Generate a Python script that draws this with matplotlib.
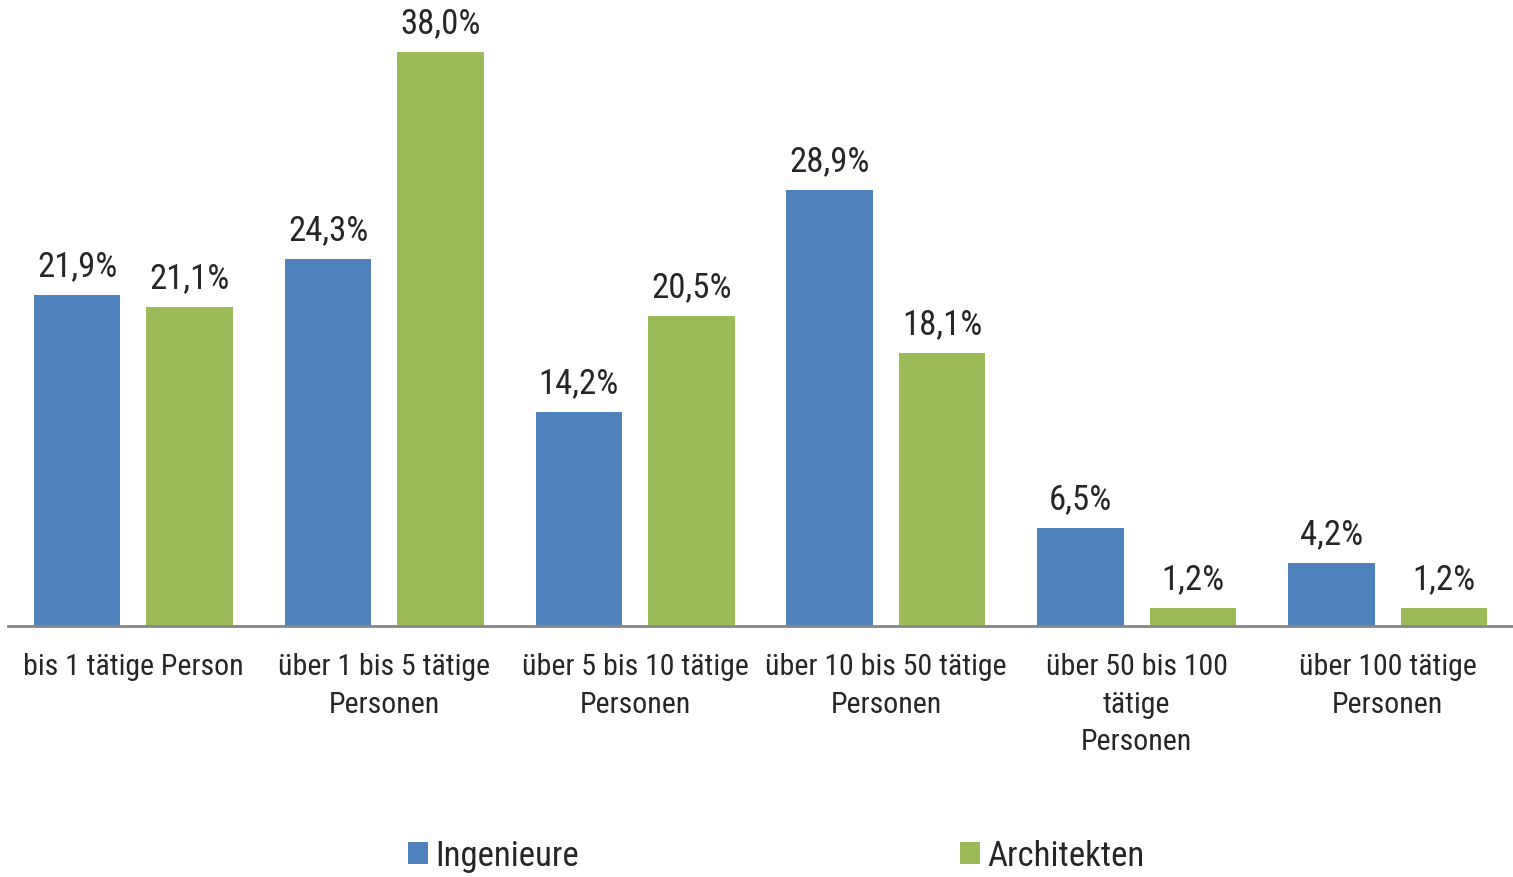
import matplotlib
matplotlib.use("Agg")
import matplotlib.pyplot as plt
import numpy as np
from matplotlib import font_manager

# category labels and values (percent)
categories = ["bis 1 tätige Person",
              "über 1 bis 5 tätige\nPersonen",
              "über 5 bis 10 tätige\nPersonen",
              "über 10 bis 50 tätige\nPersonen",
              "über 50 bis 100\ntätige\nPersonen",
              "über 100 tätige\nPersonen"]
ingenieure = [21.9, 24.3, 14.2, 28.9, 6.5, 4.2]
architekten = [21.1, 38.0, 20.5, 18.1, 1.2, 1.2]
series_names = ["Ingenieure", "Architekten"]

blue = "#4F81BD"
green = "#9BBB59"
text_col = "#262626"

# look for a narrow font, the original uses Arial Narrow
fonts = font_manager.fontManager.ttflist
names = {f.name for f in fonts}
stretch = "normal"
narrow = True
fam = None
for cand in ["Liberation Sans Narrow", "Roboto Condensed", "Open Sans Condensed", "DejaVu Sans Condensed"]:
    if cand in names:
        fam = cand
        break
if fam is None:
    cond = [f for f in fonts if f.name == "DejaVu Sans" and str(f.stretch) in ("condensed", "semi-condensed", "75", "87")]
    if cond:
        fam = "DejaVu Sans"
        stretch = "condensed"
    else:
        fam = "Liberation Sans"
        narrow = False
plt.rcParams["font.family"] = [fam, "DejaVu Sans"]
plt.rcParams["font.stretch"] = stretch

val_fs = 25 if narrow else 21
lab_fs = 21.5 if narrow else 19.5
leg_fs = 25 if narrow else 21

fig = plt.figure(figsize=(15.13, 8.78), dpi=100)
ax = fig.add_axes([8 / 1513, 1 - 627 / 878, 1505 / 1513, 604 / 878])

x = np.arange(len(categories))
w = 0.345
off = 0.224
b1 = ax.bar(x - off, ingenieure, w, color=blue, label=series_names[0])
b2 = ax.bar(x + off, architekten, w, color=green, label=series_names[1])

for bars, vals in ((b1, ingenieure), (b2, architekten)):
    for b, v in zip(bars, vals):
        ax.text(b.get_x() + b.get_width() / 2, v + 0.85, f"{v:.1f}%".replace(".", ","),
                ha="center", va="bottom", fontsize=val_fs, color=text_col)

ax.set_xlim(-0.5, len(categories) - 0.5)
ax.set_ylim(0, 40)
ax.set_yticks([])
ax.set_xticks(x)
ax.set_xticklabels(categories, fontsize=lab_fs, color=text_col, linespacing=1.43)
ax.tick_params(axis="x", length=0, pad=19)
for s in ("top", "right", "left"):
    ax.spines[s].set_visible(False)
ax.spines["bottom"].set_color("#868686")
ax.spines["bottom"].set_linewidth(2)

# legend entries placed separately, as in the original
leg_y = (878 - 857) / 878
for bars, name, lx in ((b1, series_names[0], 408), (b2, series_names[1], 960)):
    lg = fig.legend([bars], [name], loc="center left", bbox_to_anchor=(lx / 1513, leg_y),
                    frameon=False, fontsize=leg_fs, handlelength=0.58, handleheight=0.58,
                    handletextpad=0.2, borderpad=0, borderaxespad=0, labelcolor=text_col)

fig.savefig("out.png", dpi=100)
